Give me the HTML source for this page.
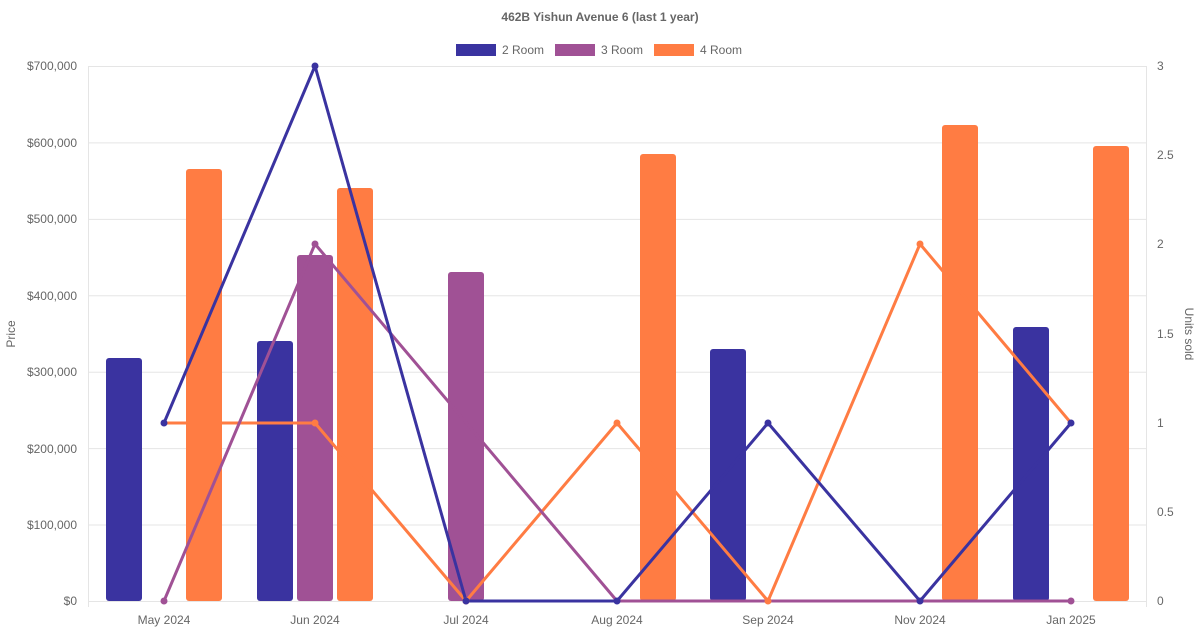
<!DOCTYPE html>
<html><head><meta charset="utf-8"><style>
body{margin:0;background:#fff;}
svg{display:block;font-family:"Liberation Sans",sans-serif;}
</style></head><body>
<svg width="1200" height="630" viewBox="0 0 1200 630" xmlns="http://www.w3.org/2000/svg">
<text x="600" y="21" text-anchor="middle" font-size="12" font-weight="bold" fill="#666">462B Yishun Avenue 6 (last 1 year)</text>
<rect x="456" y="44" width="40" height="12" fill="#3a33a0"/><text x="502" y="54" font-size="12" fill="#666">2 Room</text>
<rect x="555" y="44" width="40" height="12" fill="#a05195"/><text x="601" y="54" font-size="12" fill="#666">3 Room</text>
<rect x="654" y="44" width="40" height="12" fill="#ff7c43"/><text x="700" y="54" font-size="12" fill="#666">4 Room</text>
<g stroke="#e5e5e5" stroke-width="1">
<line x1="88" y1="66.5" x2="1146" y2="66.5"/><line x1="88" y1="142.9" x2="1146" y2="142.9"/><line x1="88" y1="219.4" x2="1146" y2="219.4"/><line x1="88" y1="295.8" x2="1146" y2="295.8"/><line x1="88" y1="372.2" x2="1146" y2="372.2"/><line x1="88" y1="448.6" x2="1146" y2="448.6"/><line x1="88" y1="525" x2="1146" y2="525"/><line x1="88" y1="601.5" x2="1146" y2="601.5"/>
<line x1="88.5" y1="66" x2="88.5" y2="607"/><line x1="1146.5" y1="66" x2="1146.5" y2="607"/>
</g>
<g font-size="12" fill="#666" text-anchor="end">
<text x="77" y="70">$700,000</text><text x="77" y="147">$600,000</text><text x="77" y="223">$500,000</text><text x="77" y="300">$400,000</text><text x="77" y="376">$300,000</text><text x="77" y="453">$200,000</text><text x="77" y="529">$100,000</text><text x="77" y="605">$0</text>
</g>
<g font-size="12" fill="#666">
<text x="1157" y="70">3</text><text x="1157" y="159">2.5</text><text x="1157" y="248">2</text><text x="1157" y="338">1.5</text><text x="1157" y="427">1</text><text x="1157" y="516">0.5</text><text x="1157" y="605">0</text>
</g>
<g font-size="12" fill="#666" text-anchor="middle">
<text x="164" y="624">May 2024</text><text x="315" y="624">Jun 2024</text><text x="466" y="624">Jul 2024</text><text x="617" y="624">Aug 2024</text><text x="768" y="624">Sep 2024</text><text x="920" y="624">Nov 2024</text><text x="1071" y="624">Jan 2025</text>
</g>
<text transform="translate(15,334) rotate(-90)" text-anchor="middle" font-size="12" fill="#666">Price</text>
<text transform="translate(1185,334) rotate(90)" text-anchor="middle" font-size="12" fill="#666">Units sold</text>
<g>
<rect x="106" y="358" width="36" height="243" rx="3" fill="#3a33a0"/>
<rect x="186" y="169" width="36" height="432" rx="3" fill="#ff7c43"/>
<rect x="257" y="341" width="36" height="260" rx="3" fill="#3a33a0"/>
<rect x="297" y="255" width="36" height="346" rx="3" fill="#a05195"/>
<rect x="337" y="188" width="36" height="413" rx="3" fill="#ff7c43"/>
<rect x="448" y="272" width="36" height="329" rx="3" fill="#a05195"/>
<rect x="640" y="154" width="36" height="447" rx="3" fill="#ff7c43"/>
<rect x="710" y="349" width="36" height="252" rx="3" fill="#3a33a0"/>
<rect x="942" y="125" width="36" height="476" rx="3" fill="#ff7c43"/>
<rect x="1013" y="327" width="36" height="274" rx="3" fill="#3a33a0"/>
<rect x="1093" y="146" width="36" height="455" rx="3" fill="#ff7c43"/>
</g>
<g fill="none" stroke-width="3" stroke-linejoin="round">
<polyline stroke="#ff7c43" points="164,423 315,423 466,601 617,423 768,601 920,244 1071,423"/>
<polyline stroke="#a05195" points="164,601 315,244 617,601 768,601 920,601 1071,601"/>
<polyline stroke="#3a33a0" points="164,423 315,66 466,601 617,601 768,423 920,601 1071,423"/>
</g>
<g fill="#ff7c43"><circle cx="315" cy="423" r="3.5"/><circle cx="466" cy="601" r="3.5"/><circle cx="617" cy="423" r="3.5"/><circle cx="768" cy="601" r="3.5"/><circle cx="920" cy="244" r="3.5"/></g>
<g fill="#a05195"><circle cx="164" cy="601" r="3.5"/><circle cx="315" cy="244" r="3.5"/><circle cx="1071" cy="601" r="3.5"/></g>
<g fill="#3a33a0"><circle cx="164" cy="423" r="3.5"/><circle cx="315" cy="66" r="3.5"/><circle cx="466" cy="601" r="3.5"/><circle cx="617" cy="601" r="3.5"/><circle cx="768" cy="423" r="3.5"/><circle cx="920" cy="601" r="3.5"/><circle cx="1071" cy="423" r="3.5"/></g>
</svg>
</body></html>
